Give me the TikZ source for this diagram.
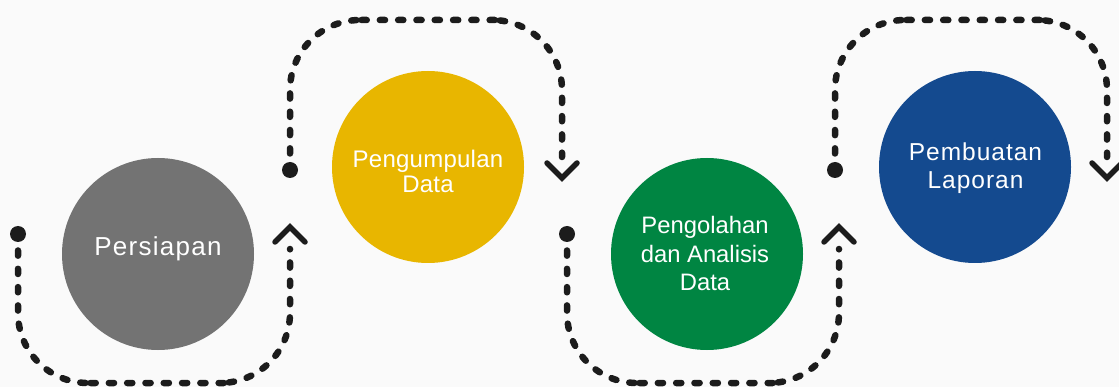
\documentclass[tikz,border=0pt]{standalone}
\usepackage{fontspec}
\setmainfont{Liberation Sans}
\definecolor{pagebg}{HTML}{FAFAFA}
\definecolor{stepgray}{HTML}{737373}
\definecolor{stepyellow}{HTML}{E8B600}
\definecolor{stepgreen}{HTML}{008542}
\definecolor{stepblue}{HTML}{144A8F}
\definecolor{ink}{HTML}{1C1C1C}
% caption font: #1 = size, #2 = line distance, #3 = letter spacing
\newcommand\capfont[3]{\fontsize{#1}{#2}\selectfont\addfontfeature{LetterSpace=#3}}

\begin{document}
\begin{tikzpicture}[x=1pt,y=-1pt,
  stage/.style={circle, inner sep=0pt, minimum size=192pt},
  caption/.style={text=white, align=center, inner sep=0pt, anchor=north},
  knob/.style={circle, fill=ink, inner sep=0pt, minimum size=16pt},
  flow/.style={draw=ink, line width=6.5pt, line cap=round,
               dash pattern=on 5.2pt off 13.1pt, dash phase=10pt,
               rounded corners=70pt},
  chev/.style={draw=ink, line width=5.5pt, line cap=round, line join=miter}]

  % canvas
  \fill[pagebg] (0,0) rectangle (1119,387);
  \useasboundingbox (0,0) rectangle (1119,387);

  % the four stages
  \node[stage, fill=stepgray]   (c1) at (158,254) {};
  \node[stage, fill=stepyellow] (c2) at (428,167) {};
  \node[stage, fill=stepgreen]  (c3) at (707,254) {};
  \node[stage, fill=stepblue]   (c4) at (975,167) {};

  \node[caption, font=\capfont{26}{27}{5}] (t1) at (158,236.4) {Persiapan};
  \node[caption, font=\capfont{24}{25}{1}] (t2) at (428,149.5) {Pengumpulan\\Data};
  \node[caption, font=\capfont{23.8}{28.5}{0}] (t3) at (705,216.3) {Pengolahan\\dan Analisis\\Data};
  \node[caption, font=\capfont{24.5}{28.3}{4}] (t4) at (975.5,142.5) {Pembuatan\\Laporan};

  % start knobs and chevron tips of the dotted loops
  \node[knob] (d1) at (18,234) {};
  \node[knob] (d2) at (290,170) {};
  \node[knob] (d3) at (567,234) {};
  \node[knob] (d4) at (835,170) {};
  \coordinate (h1) at (290,227);
  \coordinate (h2) at (562,178);
  \coordinate (h3) at (839,227);
  \coordinate (h4) at (1107,178);

  % lower loops (up-pointing tips)
  \draw[flow] (d1.south) |- (154,383) -| ([shift={(0,22)}]h1);
  \draw[chev] ([shift={(-15,15)}]h1) -- (h1) -- ([shift={(15,15)}]h1);
  \draw[flow] (d3.south) |- (703,383) -| ([shift={(0,22)}]h3);
  \draw[chev] ([shift={(-15,15)}]h3) -- (h3) -- ([shift={(15,15)}]h3);

  % upper loops (down-pointing tips)
  \draw[flow] (d2.north) |- (426,20) -| ([shift={(0,-21)}]h2);
  \draw[chev] ([shift={(-15,-15)}]h2) -- (h2) -- ([shift={(15,-15)}]h2);
  \draw[flow] (d4.north) |- (971,20) -| ([shift={(0,-21)}]h4);
  \draw[chev] ([shift={(-15,-15)}]h4) -- (h4) -- ([shift={(15,-15)}]h4);
\end{tikzpicture}
\end{document}
